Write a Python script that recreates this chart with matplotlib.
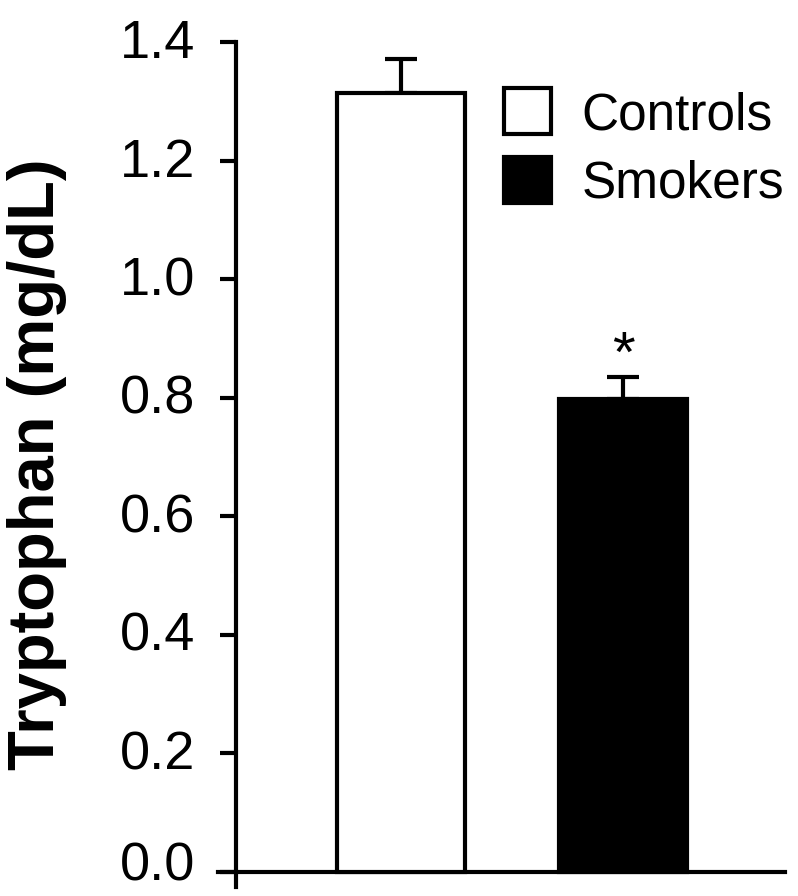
import matplotlib
matplotlib.use("Agg")
import matplotlib.pyplot as plt
from matplotlib.patches import Patch
from matplotlib.transforms import ScaledTranslation

plt.rcParams['font.family'] = ['Liberation Sans', 'DejaVu Sans']

groups = ["Controls", "Smokers"]
means = [1.314, 0.798]
errors = [0.057, 0.037]
bar_colors = ["white", "black"]
yticks = [0.0, 0.2, 0.4, 0.6, 0.8, 1.0, 1.2, 1.4]
ytick_labels = ["0.0", "0.2", "0.4", "0.6", "0.8", "1.0", "1.2", "1.4"]
ylabel = "Tryptophan (mg/dL)"
sig_marks = ["", "*"]

fig = plt.figure(figsize=(7.98, 8.96), dpi=100)
ax = fig.add_axes([0.2732, 0.01004, 0.7105, 0.94308])

x = list(range(len(groups)))
lw = 3.0
ax.bar(x, means, width=0.577, color=bar_colors, edgecolor="black",
       linewidth=lw, zorder=3)
ax.errorbar(x, means, yerr=[[0] * len(errors), errors], fmt="none",
            ecolor="black", elinewidth=lw, capsize=11.5, capthick=lw, zorder=2)

for xi, m, e, s in zip(x, means, errors, sig_marks):
    if s:
        ax.text(xi, m + e + 0.008, s, ha="center", va="baseline", fontsize=42)

x_left_spine = -0.743
ax.set_xlim(-0.824, 1.73)
ax.set_ylim(-0.0253, 1.4)
ax.spines["left"].set_position(("data", x_left_spine))
ax.spines["bottom"].set_position(("data", 0))
ax.spines["top"].set_visible(False)
ax.spines["right"].set_visible(False)
for sp in ("left", "bottom"):
    ax.spines[sp].set_linewidth(lw)

ax.set_xticks([])
ax.set_yticks(yticks)
ax.set_yticklabels(ytick_labels)
ax.tick_params(axis="y", direction="out", length=11.5, width=lw,
               labelsize=39, pad=18)
# nudge tick labels slightly upward, the bottom one more (as in the original)
for i, lab in enumerate(ax.get_yticklabels()):
    dy = 8 / 72 if i == 0 else 2.5 / 72
    lab.set_transform(lab.get_transform() + ScaledTranslation(0, dy, fig.dpi_scale_trans))

ax.set_ylabel(ylabel, fontsize=47, fontweight="bold", labelpad=38)

handles = [Patch(facecolor=c, edgecolor="black", linewidth=lw) for c in bar_colors]
leg = ax.legend(handles, groups, loc="upper left", bbox_to_anchor=(0.505, 0.945),
                frameon=False, fontsize=37, handlelength=0.9, handleheight=1.0,
                handletextpad=0.6, labelspacing=0.33, borderaxespad=0, borderpad=0)

fig.savefig("out.png", dpi=100)
